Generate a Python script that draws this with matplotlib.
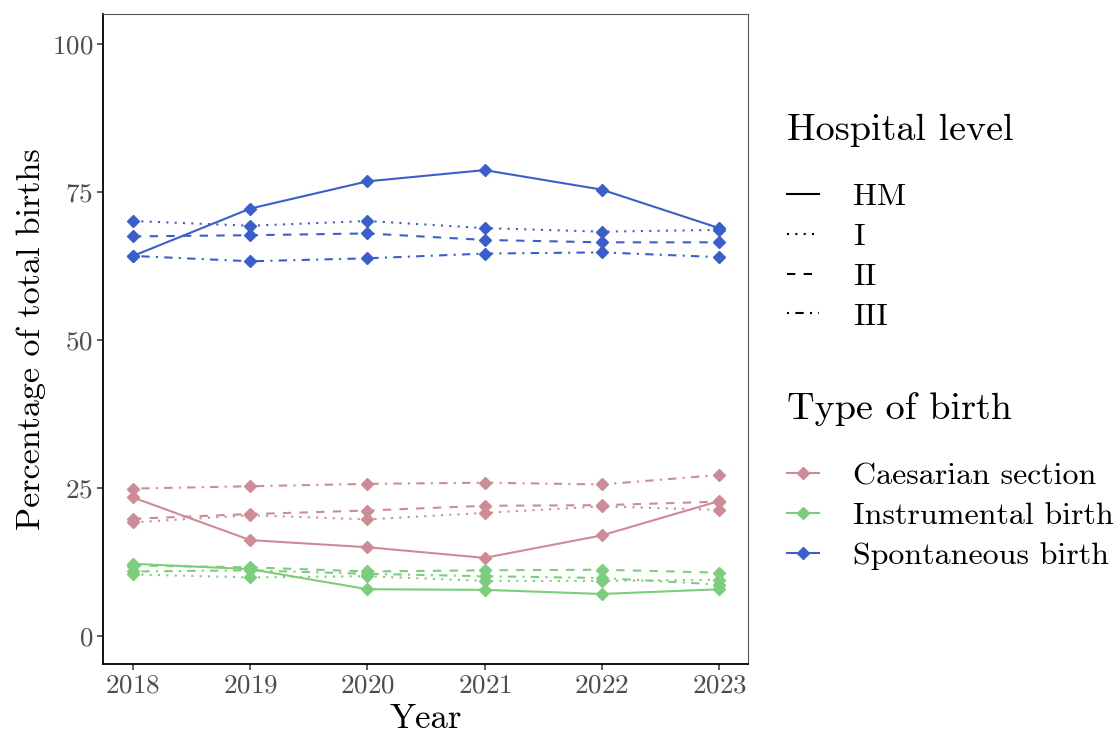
import matplotlib
matplotlib.use("Agg")
import matplotlib.pyplot as plt
from matplotlib.lines import Line2D

plt.rcParams['font.family'] = ['cmr10', 'DejaVu Serif']
plt.rcParams['mathtext.fontset'] = 'cm'
plt.rcParams['axes.formatter.use_mathtext'] = True

# data
years = [2018, 2019, 2020, 2021, 2022, 2023]
levels = ['HM', 'I', 'II', 'III']
birth_types = ['Caesarian section', 'Instrumental birth', 'Spontaneous birth']

caesarian = {
    'HM': [23.4, 16.2, 15.0, 13.2, 17.0, 22.8],
    'I': [19.2, 20.4, 19.7, 20.8, 21.9, 21.3],
    'II': [19.8, 20.6, 21.2, 22.0, 22.1, 22.7],
    'III': [24.9, 25.3, 25.7, 25.9, 25.6, 27.2],
}
instrumental = {
    'HM': [12.2, 11.3, 7.9, 7.8, 7.1, 7.9],
    'I': [10.4, 9.9, 10.1, 9.3, 9.3, 9.5],
    'II': [11.9, 11.6, 10.9, 11.1, 11.2, 10.7],
    'III': [10.9, 11.1, 10.5, 10.1, 9.8, 8.7],
}
spontaneous = {
    'HM': [64.2, 72.2, 76.8, 78.7, 75.4, 68.9],
    'I': [70.1, 69.3, 70.1, 68.9, 68.3, 68.6],
    'II': [67.5, 67.7, 68.0, 66.9, 66.5, 66.5],
    'III': [64.2, 63.3, 63.8, 64.6, 64.8, 64.0],
}

colors = {'Caesarian section': '#CD8C95',
          'Instrumental birth': '#7CCD7C',
          'Spontaneous birth': '#3A5FCD'}
dashes = {'HM': (None, None), 'I': (1, 3), 'II': (4, 4), 'III': (1, 3, 4, 3)}

fig = plt.figure(figsize=(11.17, 7.36), dpi=100)
ax = fig.add_axes([0.0922, 0.0978, 0.5775, 0.8832])

series = {'Caesarian section': caesarian,
          'Instrumental birth': instrumental,
          'Spontaneous birth': spontaneous}

for bt in birth_types:
    for lv in levels:
        ln, = ax.plot(years, series[bt][lv], color=colors[bt], lw=1.5,
                      marker='D', markersize=6.5)
        if lv != 'HM':
            ln.set_dashes(dashes[lv])

ax.set_xlim(2017.744, 2023.247)
ax.set_ylim(-4.73, 105.07)
ax.set_yticks([0, 25, 50, 75, 100])
ax.set_xticks(years)
ax.tick_params(labelsize=19.5, labelcolor='#4D4D4D', length=4, width=1.1, color='#333333', pad=3)
for s in ['top', 'right']:
    ax.spines[s].set_color('#555555')
    ax.spines[s].set_linewidth(0.8)
for s in ['left', 'bottom']:
    ax.spines[s].set_color('black')
    ax.spines[s].set_linewidth(1.3)
ax.set_xlabel('Year', fontsize=25, labelpad=4)
ax.set_ylabel('Percentage of total births', fontsize=24.5, labelpad=4)

# legend 1: hospital level (line type)
h1 = []
for lv in levels:
    l = Line2D([], [], color='black', lw=1.5)
    if lv != 'HM':
        l.set_dashes(dashes[lv])
    h1.append(l)
leg1 = fig.legend(h1, levels, title='Hospital level', loc='upper left',
                  bbox_to_anchor=(0.705, 0.845), frameon=False, fontsize=23,
                  title_fontsize=27.5, handlelength=1.0, handletextpad=1.05,
                  labelspacing=0.36, alignment='left', borderpad=0,
                  borderaxespad=0)

# legend 2: type of birth (colour)
h2 = [Line2D([], [], color=colors[bt], lw=1.5, marker='D', markersize=6.5)
      for bt in birth_types]
leg2 = fig.legend(h2, birth_types, title='Type of birth', loc='upper left',
                  bbox_to_anchor=(0.705, 0.467), frameon=False, fontsize=23,
                  title_fontsize=27.5, handlelength=1.0, handletextpad=1.05,
                  labelspacing=0.36, alignment='left', borderpad=0,
                  borderaxespad=0)
for leg in (leg1, leg2):
    leg._legend_box.sep = 25.5

fig.savefig('out.png', dpi=100)
